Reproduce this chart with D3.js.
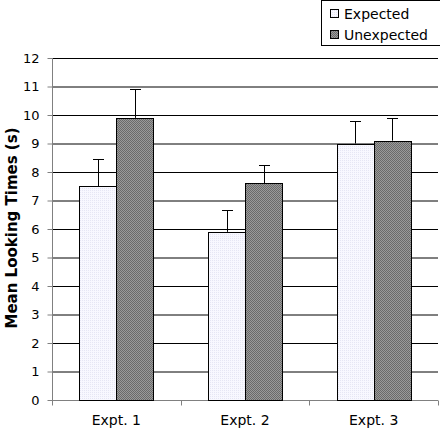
<!DOCTYPE html>
<html><head><meta charset="utf-8">
<script src="https://cdn.jsdelivr.net/npm/d3@7"></script>
<style>body{margin:0;background:#fff}svg{display:block}</style>
</head><body>
<svg id="c" width="440" height="430" font-family="DejaVu Sans, Verdana, sans-serif"></svg>
<script>
const categories = ["Expt. 1", "Expt. 2", "Expt. 3"];
const seriesNames = ["Expected", "Unexpected"];
const expected = [7.5, 5.9, 9.0];
const expectedErr = [0.95, 0.78, 0.8];
const unexpected = [9.9, 7.6, 9.1];
const unexpectedErr = [1.0, 0.66, 0.78];
const yTicks = [0,1,2,3,4,5,6,7,8,9,10,11,12];

const FONT = "DejaVu Sans, Verdana, sans-serif";
const svg = d3.select("#c");
const m = {l:52, r:438, t:58, b:400};
const defs = svg.append("defs");
const p1 = defs.append("pattern").attr("id","pE").attr("width",2).attr("height",2).attr("patternUnits","userSpaceOnUse");
p1.append("rect").attr("width",2).attr("height",2).attr("fill","#f8f8ff");
p1.append("rect").attr("width",1).attr("height",1).attr("fill","#e6e6f4");
const p2 = defs.append("pattern").attr("id","pU").attr("width",2).attr("height",2).attr("patternUnits","userSpaceOnUse");
p2.append("rect").attr("width",2).attr("height",2).attr("fill","#9a9a9a");
p2.append("rect").attr("width",1).attr("height",1).attr("fill","#6a6a6a");
p2.append("rect").attr("x",1).attr("y",1).attr("width",1).attr("height",1).attr("fill","#6a6a6a");

const y = d3.scaleLinear().domain([0,12]).range([m.b, m.t]);
const x0 = d3.scaleBand().domain(categories).range([m.l, m.r]);
const bw = 37;

// gridlines
svg.append("g").selectAll("line").data(yTicks.filter(d=>d>0)).join("line")
  .attr("x1", m.l).attr("x2", m.r).attr("y1", d=>y(d)+0.5).attr("y2", d=>y(d)+0.5)
  .attr("stroke","#000").attr("stroke-width",1);

// y axis
const ya = svg.append("g").attr("transform",`translate(${m.l+0.5},0)`)
  .call(d3.axisLeft(y).tickValues(yTicks).tickSize(5).tickPadding(8));
ya.attr("font-family",FONT).attr("font-size",13);
ya.select(".domain").attr("stroke","#808080").attr("d",`M0,${m.t}V${m.b}`);
ya.selectAll(".tick line").attr("stroke","#808080");
ya.selectAll(".tick text").attr("fill","#000");

// x axis
const xa = svg.append("g").attr("transform",`translate(0,${m.b+0.5})`)
  .call(d3.axisBottom(x0).tickSize(0).tickPadding(15));
xa.attr("font-family",FONT).attr("font-size",14);
xa.select(".domain").attr("stroke","#808080").attr("d",`M${m.l},0H${m.r}`);
xa.selectAll(".tick text").attr("fill","#000");
const bnd = x0.domain().map(d=>x0(d)).concat([m.r]);
xa.append("g").selectAll("line").data(bnd).join("line")
  .attr("x1",d=>Math.round(d)+0.5).attr("x2",d=>Math.round(d)+0.5).attr("y1",0).attr("y2",5).attr("stroke","#808080");

// bars
const data = categories.map((c,i)=>[
  {c, s:0, v:expected[i], e:expectedErr[i]},
  {c, s:1, v:unexpected[i], e:unexpectedErr[i]}]).flat();
const bx = d => x0(d.c) + x0.bandwidth()/2 + (d.s===0 ? -bw : 0);
const g = svg.append("g");
g.selectAll("line.err").data(data).join("line").attr("class","err")
  .attr("x1",d=>Math.round(bx(d)+bw/2)+0.5).attr("x2",d=>Math.round(bx(d)+bw/2)+0.5)
  .attr("y1",d=>y(d.v)).attr("y2",d=>Math.round(y(d.v+d.e))+0.5).attr("stroke","#000");
g.selectAll("line.cap").data(data).join("line").attr("class","cap")
  .attr("x1",d=>Math.round(bx(d)+bw/2)-5).attr("x2",d=>Math.round(bx(d)+bw/2)+6)
  .attr("y1",d=>Math.round(y(d.v+d.e))+0.5).attr("y2",d=>Math.round(y(d.v+d.e))+0.5).attr("stroke","#000");
g.selectAll("rect").data(data).join("rect")
  .attr("x",d=>Math.round(bx(d))+0.5).attr("width",bw)
  .attr("y",d=>Math.round(y(d.v))+0.5).attr("height",d=>Math.round(y(0))-Math.round(y(d.v)))
  .attr("fill",d=>d.s===0?"url(#pE)":"url(#pU)").attr("stroke","#000").attr("stroke-width",1);

// y label
svg.append("text").attr("transform","translate(17,228) rotate(-90)")
  .attr("text-anchor","middle").attr("font-size",15).attr("font-weight","bold").text("Mean Looking Times (s)");

// legend
const lg = svg.append("g").attr("font-size",14);
lg.append("rect").attr("x",321.5).attr("y",0.5).attr("width",122).attr("height",45).attr("fill","#fff").attr("stroke","#000");
seriesNames.forEach((n,i)=>{
  lg.append("rect").attr("x",330.5).attr("y",9.5+i*21).attr("width",8).attr("height",8)
    .attr("fill",i===0?"url(#pE)":"url(#pU)").attr("stroke","#000");
  lg.append("text").attr("x",344).attr("y",18.5+i*21).text(n);
});
</script>
</body></html>
